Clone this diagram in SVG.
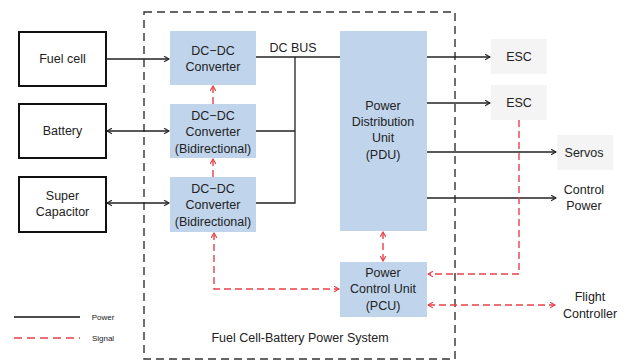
<svg xmlns="http://www.w3.org/2000/svg" width="629" height="363" viewBox="0 0 629 363">
<defs>
<style>
text{font-family:"Liberation Sans",Arial,sans-serif;font-size:12.5px;fill:#222;text-anchor:middle}
.src{fill:#fff;stroke:#111;stroke-width:2}
.blue{fill:#c0d5ec}
.grey{fill:#f4f4f4}
.pw{fill:none;stroke:#222;stroke-width:1.3}
.sig{fill:none;stroke:#e8414b;stroke-width:1.4;stroke-dasharray:7 4}
.small{font-size:8px}
</style>
<marker id="ab" viewBox="0 0 10 10" refX="9" refY="5" markerWidth="7" markerHeight="7" markerUnits="userSpaceOnUse" orient="auto-start-reverse"><path d="M2,1 L9,5 L2,9" fill="none" stroke="#222" stroke-width="1.6"/></marker>
<marker id="ar" viewBox="0 0 10 10" refX="9" refY="5" markerWidth="7" markerHeight="7" markerUnits="userSpaceOnUse" orient="auto-start-reverse"><path d="M2,1 L9,5 L2,9" fill="none" stroke="#e8414b" stroke-width="1.6"/></marker>
</defs>
<rect width="629" height="363" fill="#fff"/>
<rect id="system" x="144" y="12" width="311" height="347" fill="none" stroke="#333" stroke-width="1.4" stroke-dasharray="8 5"/>
<text x="300" y="342">Fuel Cell-Battery Power System</text>

<g id="fuelcell"><rect class="src" x="19" y="32" width="87" height="54"/><text x="62.5" y="63">Fuel cell</text></g>
<g id="battery"><rect class="src" x="19" y="104" width="87" height="54"/><text x="62.5" y="135">Battery</text></g>
<g id="supercap"><rect class="src" x="19" y="177" width="87" height="55"/><text x="62.5" y="200">Super</text><text x="62.5" y="216">Capacitor</text></g>

<g id="conv1"><rect class="blue" x="170" y="31" width="86" height="54"/><text x="213" y="55">DC−DC</text><text x="213" y="71">Converter</text></g>
<g id="conv2"><rect class="blue" x="170" y="104" width="86" height="54"/><text x="213" y="120">DC−DC</text><text x="213" y="136">Converter</text><text x="213" y="153">(Bidirectional)</text></g>
<g id="conv3"><rect class="blue" x="170" y="177" width="86" height="55"/><text x="213" y="193">DC−DC</text><text x="213" y="209">Converter</text><text x="213" y="226">(Bidirectional)</text></g>

<g id="pdu"><rect class="blue" x="340" y="31" width="87" height="200"/><text x="383" y="110">Power</text><text x="383" y="126">Distribution</text><text x="383" y="142">Unit</text><text x="383" y="159">(PDU)</text></g>
<g id="pcu"><rect class="blue" x="340" y="262" width="87" height="55"/><text x="383" y="277">Power</text><text x="383" y="293">Control Unit</text><text x="383" y="310">(PCU)</text></g>

<g id="esc1"><rect class="grey" x="491" y="39" width="56" height="35"/><text x="519" y="61">ESC</text></g>
<g id="esc2"><rect class="grey" x="491" y="85" width="56" height="35"/><text x="519" y="107">ESC</text></g>
<g id="servos"><rect class="grey" x="557" y="135" width="56" height="35"/><text x="584" y="157">Servos</text></g>
<g id="controlpower"><text x="584" y="194">Control</text><text x="584" y="210">Power</text></g>
<g id="flightcontroller"><text x="590" y="301">Flight</text><text x="590" y="318">Controller</text></g>

<g id="connectors">
<path class="pw" d="M106,59 H169" marker-end="url(#ab)"/>
<path class="pw" d="M107,131 H169" marker-start="url(#ab)" marker-end="url(#ab)"/>
<path class="pw" d="M107,203 H169" marker-start="url(#ab)" marker-end="url(#ab)"/>
<path class="pw" d="M256,57 H340"/>
<text x="293" y="52">DC BUS</text>
<path class="pw" d="M295,57 V203 H256"/>
<path class="pw" d="M256,131 H295"/>
<path class="pw" d="M427,57 H490" marker-end="url(#ab)"/>
<path class="pw" d="M427,103 H490" marker-end="url(#ab)"/>
<path class="pw" d="M427,152 H556" marker-end="url(#ab)"/>
<path class="pw" d="M427,198 H556" marker-end="url(#ab)"/>
<path class="sig" d="M213,104 V86" marker-end="url(#ar)"/>
<path class="sig" d="M213,177 V159" marker-end="url(#ar)"/>
<path class="sig" d="M214,233 V289 H339" marker-start="url(#ar)" marker-end="url(#ar)"/>
<path class="sig" d="M383,232 V261" marker-start="url(#ar)" marker-end="url(#ar)"/>
<path class="sig" d="M519,120 V274 H428" marker-end="url(#ar)"/>
<path class="sig" d="M428,305 H555" marker-start="url(#ar)" marker-end="url(#ar)"/>
</g>

<g id="legend">
<path d="M14,317 H80" stroke="#111" stroke-width="1.6"/>
<text class="small" x="103" y="320">Power</text>
<path d="M14,338 H80" stroke="#e8414b" stroke-width="1.6" stroke-dasharray="8 5"/>
<text class="small" x="103" y="341">Signal</text>
</g>
</svg>
